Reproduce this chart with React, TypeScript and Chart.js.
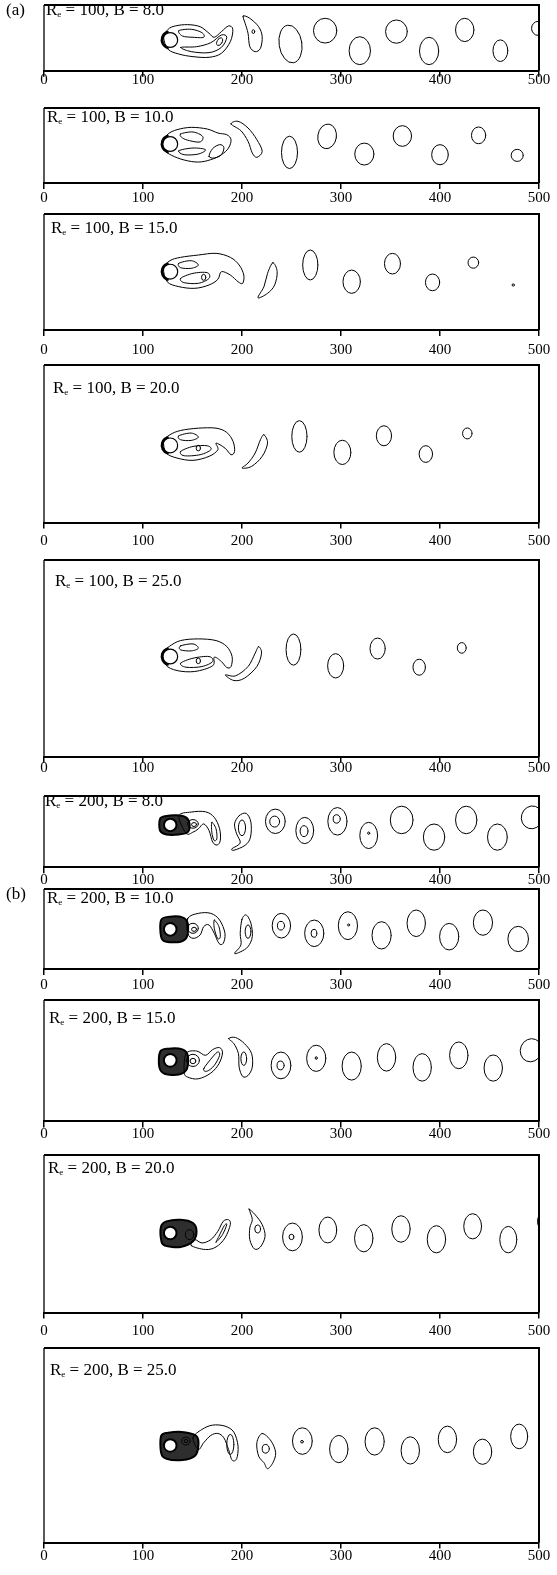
import React, { useEffect, useRef } from 'react';
import { Chart, registerables } from 'chart.js';

Chart.register(...registerables);

type Pt = [number, number];
// [centre x, centre y, half-width, half-height, tilt (rad)]
type Eddy = [number, number, number, number, number];

// ---- axis and run parameters ----
const xTickValues = [0, 100, 200, 300, 400, 500];
const reynolds = [100, 100, 100, 100, 100, 200, 200, 200, 200, 200];
const blockage = [8.0, 10.0, 15.0, 20.0, 25.0, 8.0, 10.0, 15.0, 20.0, 25.0];
const channelLow = [-33, -41.9, -62.7, -83.2, -107.9, -46.2, -42.7, -65.2, -86, -104.7];
const channelHigh = [37.6, 38.7, 62, 86.7, 104, 31.5, 43.4, 64.5, 84.2, 105];
const partLabels = ['(a)', '', '', '', '', '', '(b)', '', '', ''];
const cylinderX = 127.5;
const cylinderRadius = 8;

// ---- Re = 100 ----
const vortices1: Eddy[] = [
  [249, -4.3, 11.5, 20.4, -0.15], [284, 10, 11.8, 13.3, 0], [319, -11.5, 10.8, 15, 0],
  [356, 9, 11, 12.5, 0], [389, -11.8, 9.7, 14.7, 0], [425, 10.8, 9.3, 12.5, 0],
  [461, -11.5, 7.5, 11.6, 0], [499, 12.5, 6.5, 7.5, 0], [211.5, 9, 1.4, 2, 0],
  [177.4, -1.8, 2.5, 4.5, 0.5],
];
const contours1: Pt[][] = [
  [[120.8, 2.9], [125.4, 11.5], [132.6, 15.1], [145.2, 16.5], [157.7, 14.3], [166.7, 7.2], [172, 2.9], [179.2, 9], [186.4, 15.1], [190.7, 11.5], [188.2, -1.8], [179.2, -14.3], [166.7, -18.6], [150.5, -17.9], [136.2, -15.1], [125.4, -10]],
  [[136.2, 10], [148.7, 11.5], [159.5, 7.9], [161.3, 2.9], [150.5, 2.9], [139.8, 4.3]],
  [[138, -7.9], [154.1, -7.2], [168.5, -2.9], [179.2, 5.4], [184.6, 2.9], [179.2, -7.9], [166.7, -13.6], [148.7, -12.5]],
  [[201.1, 25.8], [207.9, 23.3], [216.8, 14.3], [220.4, 3.6], [218.6, -9], [213.3, -12.5], [207.9, -7.2], [206.1, 7.2], [203.2, 17.9]],
];

const vortices2: Eddy[] = [
  [248, -9, 8.1, 17.4, 0], [286, 8.2, 9.4, 13.3, 0.15], [323.6, -10.8, 9.7, 11.8, 0],
  [362, 8.6, 9.3, 11.1, 0], [400, -11.5, 8.4, 10.8, 0], [439, 9.3, 7.2, 9, 0],
  [478, -12.2, 6.1, 6.5, 0],
];
const contours2: Pt[][] = [
  [[120.1, 2.9], [125.4, 10.8], [134.4, 15.4], [148.7, 17.9], [164.9, 16.1], [175.6, 11.8], [184.6, 10], [188.9, 4.7], [186.4, -4.3], [179.2, -11.5], [168.5, -16.8], [155.9, -19.4], [141.6, -17.2], [129, -12.2], [121.1, -6.1]],
  [[138, 10.8], [150.5, 12.9], [160.2, 8.2], [157.7, 2.2], [147, 3.6], [139.8, 6.5]],
  [[166.7, -13.3], [170.3, -5], [177.4, -0.7], [181.7, -3.6], [179.2, -11.5], [172, -15.1]],
  [[136.2, -7.2], [150.5, -4.3], [163.1, -6.1], [155.9, -10.8], [141.6, -11.5]],
  [[188.9, 21.5], [196, 24.4], [206.1, 17.2], [215, 4.7], [220.4, -7.9], [215, -14.3], [210.4, -9.7], [206.1, 2.9], [198.9, 14.3]],
];

const vortices3: Eddy[] = [
  [269, 7.2, 7.7, 16.1, 0], [310.8, -10.8, 8.8, 12.5, 0], [352, 8.6, 8.1, 11.1, 0],
  [392.5, -11.5, 7.2, 9, 0], [433.7, 9.7, 5.4, 6, 0], [474, -14.3, 1.2, 1.2, 0],
  [161.3, -6.1, 2.2, 3.2, 0],
];
const contours3: Pt[][] = [
  [[120.8, 3.6], [127.2, 11.8], [138, 15.4], [155.9, 17.9], [173.8, 19.7], [188.2, 15.4], [197.1, 7.2], [201.8, -3.6], [200.7, -12.5], [196, -10.8], [188.2, -3.6], [179.2, 0], [175.6, -8.2], [166.7, -14.3], [152.3, -17.9], [136.2, -16.1], [124.4, -10.8]],
  [[136.2, 9], [148.7, 11.8], [155.9, 7.2], [148.7, 3.6], [138, 4.3]],
  [[138, -7.2], [150.5, -1.8], [164.9, -1.1], [166.7, -7.2], [155.9, -12.5], [141.6, -11.8]],
  [[231.2, 9.7], [235.5, 0], [233, -14.3], [225.8, -23.3], [216.1, -28], [222.2, -16.1], [225.8, -1.8]],
];

const vortices4: Eddy[] = [
  [258, 9.7, 7.7, 17, 0], [301.4, -7.5, 8.6, 13.1, 0], [343.4, 10.4, 7.7, 10.8, 0],
  [385.7, -9.3, 6.8, 9, 0], [427.6, 12.9, 4.8, 5.9, 0], [155.9, -2.9, 2.2, 3, 0],
];
const contours4: Pt[][] = [
  [[120.8, 4.3], [127.2, 11.5], [138, 16.1], [155.9, 18.6], [173.8, 18.6], [184.6, 14], [191, 4.3], [192.5, -6.5], [188.9, -10], [182.8, -2.9], [173.8, 2.5], [175.6, -4.7], [166.7, -11.8], [150.5, -16.1], [134.4, -13.6], [123.7, -8.2]],
  [[136.2, 10.4], [148.7, 13.3], [155.9, 9], [148.7, 5.4], [138, 6.1]],
  [[138, -6.5], [150.5, -1.1], [164.9, -0.4], [168.5, -4.7], [157.7, -10], [141.6, -11.1]],
  [[222.2, 11.5], [225.8, 2.5], [220.4, -11.8], [209.7, -22.6], [200, -24.4], [206.1, -19], [213.3, -8.2], [218.6, 6.1]],
];

const vortices5: Eddy[] = [
  [252, 7.5, 7.5, 16.8, 0], [294.6, -10, 8.1, 13.1, 0], [337, 8.6, 7.7, 11.3, 0],
  [379, -11.5, 6.3, 8.6, 0], [422, 9.3, 4.5, 5.7, 0], [155.9, -4.7, 2.2, 3, 0],
];
const contours5: Pt[][] = [
  [[120.1, 3.6], [126.5, 10.8], [138, 17.2], [155.9, 19], [173.8, 17.2], [184.6, 10.8], [190, 0], [188.9, -10.8], [184.6, -11.8], [179.2, -5.4], [172, -0.7], [170.3, -10], [152.3, -16.1], [134.4, -15.1], [122.9, -9]],
  [[138, 11.5], [150.5, 13.6], [155.9, 9], [148.7, 6.1], [138, 7.2]],
  [[138, -7.2], [150.5, -1.8], [166.7, 0], [170.3, -5.4], [159.5, -10.8], [143.4, -11.5]],
  [[216.8, 10.8], [219.7, 3.6], [215, -10.8], [202.5, -23.3], [191.8, -25.8], [183.2, -19.7], [193.5, -20.8], [206.1, -10.8], [213.3, 3.6]],
];

// ---- Re = 200 ----
const vortices6: Eddy[] = [
  [233.7, 3.9, 10, 13.3, 0], [233, 3.6, 5, 6, 0], [263.4, -6.1, 9, 14.3, 0], [262.7, -6.8, 4, 6, 0],
  [296.4, 3.9, 9.7, 15, 0], [295.7, 6.5, 3.6, 4.6, 0], [328, -11.5, 9, 14.3, 0], [328, -9, 1.1, 1.3, 0],
  [361.3, 5.4, 11.5, 15, 0], [394, -13.3, 10.8, 14.3, 0], [426.5, 5.4, 10.8, 15, 0],
  [458, -13.3, 10, 14.3, 0], [493, 8.2, 10.8, 12.5, 0.3], [200, -3.2, 3.6, 8.6, 0],
  [150.5, 1.1, 5.4, 4.7, 0], [151.6, 0.4, 2.5, 2.2, 0],
];
const blob6: Pt[] = [[117.2, 6.5], [123.7, 9.7], [134.4, 10.4], [143.4, 8.2], [147, 1.1], [145.2, -7.9], [136.2, -10.4], [123.7, -10.4], [117.2, -6.1]];
const contours6: Pt[][] = [
  [[136.2, 10], [148.7, 14], [163.1, 14.3], [172, 8.2], [177.4, -4.3], [178.1, -16.8], [174.9, -21.9], [170.3, -18.6], [166.7, -6.1], [161.3, 1.1], [155.9, -4.3], [150.5, -7.9], [143.4, -9]],
  [[169.5, 2.9], [173.8, -4.3], [174.6, -15.1], [171.7, -16.8], [169.5, -7.9]],
  [[197.1, 10], [204.3, 12.5], [209, 2.9], [208.6, -13.3], [203.2, -22.2], [191.8, -27.6], [190, -25.8], [198.2, -19.7], [194.6, -9.7], [192.5, 1.1]],
];

const vortices7: Eddy[] = [
  [239.8, 3.9, 9.3, 13.3, 0], [239.4, 3.9, 3.6, 4.7, 0], [273, -4.3, 9.7, 14.3, 0], [272.7, -4.3, 2.9, 4.3, 0],
  [307, 3.9, 9.7, 15, 0], [307.7, 4.7, 1.1, 1.1, 0], [341, -6.5, 9.7, 14.7, 0], [376, 6.5, 9.3, 14.3, 0],
  [409.3, -7.9, 9.7, 14.3, 0], [443.4, 7.2, 9.7, 13.6, 0], [479, -10.4, 10.4, 13.6, 0],
  [206.1, -2.5, 2.9, 7.2, 0], [150.5, 1.1, 5.4, 5.4, 0], [151.6, 0, 2.5, 2.2, 0],
];
const blob7: Pt[] = [[118.3, 10], [127.2, 13.6], [139.8, 12.9], [145.2, 6.5], [144.4, -7.9], [138, -13.3], [123.7, -13.3], [118.3, -7.9]];
const contours7: Pt[][] = [
  [[145.2, 11.8], [155.9, 17.2], [168.5, 17.2], [177.4, 10], [182.8, -4.3], [181, -15.1], [176.7, -15.1], [172, -4.3], [166.7, 4.7], [161.3, 2.9], [157.7, -6.1], [150.5, -9.7], [145.2, -4.3]],
  [[172, 10], [176.7, 2.9], [178.1, -7.9], [175.3, -9.7], [172, 1.1]],
  [[200, 10.8], [204.3, 15.4], [209, 6.5], [210.4, -7.9], [206.1, -18.6], [198.9, -24], [192.5, -25.8], [198.9, -16.8], [198.2, -4.3]],
];

const vortices8: Eddy[] = [
  [239.4, -5.4, 10, 14.3, 0], [239, -5.4, 3.6, 4.7, 0], [275, 2.2, 9.7, 14, 0], [275, 2.5, 1.1, 1.4, 0],
  [310.8, -6.1, 9.7, 15, 0], [346, 3.2, 9.3, 14.7, 0], [382, -7.5, 9.3, 14.7, 0],
  [419, 5.4, 9.3, 14.3, 0], [453.8, -8.2, 9.3, 14, 0], [492, 10.8, 10.8, 12.5, 0.4],
  [201.8, 1.8, 2.9, 7.2, 0], [150.5, 0, 6.5, 6.5, 0], [150.5, -0.7, 2.9, 2.9, 0],
];
const blob8: Pt[] = [[117.2, 9], [125.4, 12.5], [139.8, 11.8], [145.2, 5.4], [144.4, -9], [136.2, -15.1], [121.9, -14.3], [116.5, -7.2]];
const contours8: Pt[][] = [
  [[143.4, 7.2], [154.1, 10], [163.1, 5.4], [170.3, 11.5], [177.4, 13.6], [180.3, 7.9], [176.7, -3.6], [168.5, -13.6], [155.9, -19.7], [145.2, -17.9], [141.6, -12.5]],
  [[161.3, -9], [170.3, 3.6], [175.6, 9], [177.4, 5.4], [172, -5.4], [164.9, -11.5]],
  [[186.4, 23.3], [193.5, 24.4], [202.5, 17.9], [209.7, 7.2], [210.4, -7.2], [206.1, -16.1], [200.7, -17.2], [197.1, -7.2], [196.4, 7.2], [191.8, 17.9]],
];

const vortices9: Eddy[] = [
  [251, -4.3, 10, 15, 0], [250, -4.3, 2.5, 2.9, 0], [286.7, 3.2, 9, 14, 0], [323, -5.7, 9.3, 14.7, 0],
  [360.6, 4.3, 9.3, 14.3, 0], [396.4, -6.8, 9.3, 14.7, 0], [433, 7.2, 9, 13.6, 0],
  [469, -7.2, 8.6, 14.3, 0], [502, 12.5, 3.5, 7, 0], [215.8, 4.3, 2.9, 4.3, 0],
  [147, -1.8, 4.3, 5.4, 0],
];
const blob9: Pt[] = [[118.3, 7.2], [123.7, 12.5], [138, 14.3], [150.5, 10.8], [154.1, 1.8], [150.5, -9], [138, -15.1], [121.9, -13.6], [118.3, -7.2]];
const contours9: Pt[][] = [
  [[148.7, -13.6], [163.1, -17.9], [173.8, -15.1], [182.8, -5.4], [188.2, 9], [186.4, 14.3], [181, 12.5], [175.6, 1.8], [168.5, -7.2], [159.5, -10.8], [152.3, -7.2]],
  [[173.8, -10], [180.3, -1.8], [184.6, 9], [182.1, 7.9], [176.7, -3.6]],
  [[207.2, 25.8], [213.3, 19.7], [220.4, 9], [223.3, -3.6], [218.6, -15.1], [212.5, -17.2], [207.9, -7.2], [207.9, 5.4], [210.4, 14.3], [207.9, 23.3]],
];

const vortices10: Eddy[] = [
  [261, 4.7, 10, 14.3, 0], [260.6, 4, 1.4, 1.4, 0], [297.8, -3.9, 9.3, 14.7, 0], [334, 4.3, 9.7, 14.7, 0],
  [370, -5.4, 9.3, 14.7, 0], [407.5, 6.5, 9.3, 14.3, 0], [443, -6.8, 9.3, 13.6, 0],
  [480, 9.7, 8.6, 13.3, 0], [224, -3.6, 3.6, 4.7, 0], [188.2, 1.1, 3.6, 10.8, 0],
  [143.4, 4.7, 4.3, 4.3, 0], [143.4, 4.7, 1.8, 1.8, 0],
];
const blob10: Pt[] = [[118.3, 10], [125.4, 13.6], [141.6, 14.3], [154.1, 10], [155.9, -0.7], [152.3, -11.5], [139.8, -15.8], [123.7, -14.3], [118.3, -7.9]];
const contours10: Pt[][] = [
  [[150.5, 8.2], [159.5, 17.2], [170.3, 21.9], [182.8, 20.8], [191.8, 14.3], [196, -0.7], [194.6, -14.3], [190, -15.8], [186.4, -4.3], [181.7, 8.2], [175.6, 12.9], [168.5, 10.8], [161.3, 2.9], [155.9, -4.3]],
  [[220.4, 12.9], [229.4, 4.7], [234, -7.9], [231.2, -18.6], [225.8, -25.1], [222.2, -18.6], [216.8, -11.5], [215, 2.9]],
];

const vortexSets = [vortices1, vortices2, vortices3, vortices4, vortices5, vortices6, vortices7, vortices8, vortices9, vortices10];
const contourSets = [contours1, contours2, contours3, contours4, contours5, contours6, contours7, contours8, contours9, contours10];
const blobSets: (Pt[] | null)[] = [null, null, null, null, null, blob6, blob7, blob8, blob9, blob10];

// ---- page layout (pixels) ----
const frameTop = [5, 108, 214, 365, 560, 796, 889, 1000, 1155, 1348];
const frameBottom = [71, 183, 330, 523, 757, 867, 969, 1121, 1313, 1543];
const labelGap = [9.3, 15, 20, 18.4, 11.3, 12.7, 16, 12.6, 18.4, 13.4];
const titleLeft = [46, 47, 51, 53, 55, 45, 47, 49, 48, 50];
const titleDrop = [10, 14, 19, 28, 25.5, 9.5, 14, 23, 18, 27];
const PAGE_W = 557;
const PAGE_H = 1575;
const PAD_LEFT = 44;
const PAD_RIGHT = 18;
const PAD_TOP = 5;
const TICK_LEN = 6;
const TICK_FONT = 15;
const TITLE_FONT = 17;
const SERIF = '"Liberation Serif", "Times New Roman", serif';

// builds a closed Catmull-Rom path through pixel points
function loopPath(ctx: CanvasRenderingContext2D, pts: Pt[]) {
  const n = pts.length;
  ctx.beginPath();
  ctx.moveTo(pts[0][0], pts[0][1]);
  for (let i = 0; i < n; i++) {
    const p0 = pts[(i - 1 + n) % n];
    const p1 = pts[i];
    const p2 = pts[(i + 1) % n];
    const p3 = pts[(i + 2) % n];
    const t = 1 / 6;
    ctx.bezierCurveTo(
      p1[0] + (p2[0] - p0[0]) * t, p1[1] + (p2[1] - p0[1]) * t,
      p2[0] - (p3[0] - p1[0]) * t, p2[1] - (p3[1] - p1[1]) * t,
      p2[0], p2[1]
    );
  }
  ctx.closePath();
}

function Panel({ index }: { index: number }) {
  const ref = useRef<HTMLCanvasElement>(null);
  const gap = labelGap[index];
  const axisHeight = gap + 11;
  const top = frameTop[index] - PAD_TOP;
  const height = Math.round(frameBottom[index] + axisHeight - top);

  useEffect(() => {
    const canvas = ref.current;
    if (!canvas) return;
    const re = reynolds[index];
    const eddies = vortexSets[index];
    const contours = contourSets[index];
    const blob = blobSets[index];

    const wakePlugin = {
      id: 'wakeContours',
      afterDatasetsDraw(chart: any) {
        const { ctx, chartArea: a } = chart;
        const xs = chart.scales.x;
        const ys = chart.scales.y;
        const px = (v: number) => xs.getPixelForValue(v);
        const py = (v: number) => ys.getPixelForValue(v);
        const kx = (px(500) - px(0)) / 500;
        const ky = Math.abs(py(1) - py(0));
        const toPx = (pts: Pt[]): Pt[] => pts.map(([x, y]) => [px(x), py(y)] as Pt);

        ctx.save();
        ctx.beginPath();
        ctx.rect(a.left, a.top, a.right - a.left, a.bottom - a.top);
        ctx.clip();
        ctx.strokeStyle = '#000';
        ctx.lineJoin = 'round';
        ctx.lineCap = 'round';

        ctx.lineWidth = 1;
        contours.forEach((c) => {
          loopPath(ctx, toPx(c));
          ctx.stroke();
        });
        eddies.forEach(([x, y, rx, ry, rot]) => {
          ctx.beginPath();
          ctx.ellipse(px(x), py(y), rx * kx, ry * ky, rot, 0, Math.PI * 2);
          ctx.stroke();
        });

        const cx = px(cylinderX);
        const cy = py(0);
        const r = cylinderRadius * ky;
        if (blob) {
          // dense near-body contours merge into a dark patch
          loopPath(ctx, toPx(blob));
          ctx.fillStyle = 'rgba(0,0,0,0.82)';
          ctx.fill();
          ctx.lineWidth = 2;
          ctx.stroke();
          ctx.beginPath();
          ctx.arc(cx, cy, r * 0.85, 0, Math.PI * 2);
          ctx.fillStyle = '#fff';
          ctx.fill();
          ctx.lineWidth = 2;
          ctx.stroke();
        } else {
          ctx.lineWidth = 1.2;
          ctx.beginPath();
          ctx.arc(cx, cy, r, 0, Math.PI * 2);
          ctx.stroke();
          ctx.lineWidth = 2.4;
          ctx.beginPath();
          ctx.arc(cx, cy, r + 1, Math.PI * 0.6, Math.PI * 1.4);
          ctx.stroke();
        }
        ctx.restore();

        // channel walls
        ctx.save();
        ctx.strokeStyle = '#000';
        ctx.lineWidth = 2;
        ctx.beginPath();
        ctx.moveTo(a.left, a.top);
        ctx.lineTo(a.right, a.top);
        ctx.lineTo(a.right, a.bottom);
        ctx.stroke();
        ctx.lineWidth = 1.3;
        ctx.beginPath();
        ctx.moveTo(a.left, a.top);
        ctx.lineTo(a.left, a.bottom);
        ctx.stroke();

        // panel title  R_e = ..., B = ...
        ctx.fillStyle = '#000';
        ctx.textBaseline = 'alphabetic';
        ctx.textAlign = 'left';
        const tx = titleLeft[index];
        const ty = a.top + titleDrop[index];
        ctx.font = `${TITLE_FONT}px ${SERIF}`;
        ctx.fillText('R', tx, ty);
        const wR = ctx.measureText('R').width;
        ctx.font = `9px ${SERIF}`;
        ctx.fillText('e', tx + wR, ty + 2);
        const wE = ctx.measureText('e').width;
        ctx.font = `${TITLE_FONT}px ${SERIF}`;
        ctx.fillText(` = ${re}, B = ${blockage[index].toFixed(1)}`, tx + wR + wE, ty);

        if (partLabels[index]) {
          ctx.fillText(partLabels[index], 6, a.top + 10);
        }
        ctx.restore();
      },
    };

    const chart = new Chart(canvas, {
      type: 'scatter',
      data: {
        datasets: [
          {
            data: eddies.map(([x, y]) => ({ x, y })),
            pointRadius: 0,
            showLine: false,
          },
        ],
      },
      options: {
        animation: false,
        responsive: false,
        maintainAspectRatio: false,
        events: [],
        layout: { padding: { left: PAD_LEFT, right: PAD_RIGHT, top: PAD_TOP, bottom: 0 } },
        plugins: { legend: { display: false }, tooltip: { enabled: false } },
        scales: {
          x: {
            type: 'linear',
            position: 'bottom',
            min: xTickValues[0],
            max: xTickValues[xTickValues.length - 1],
            afterFit: (scale: any) => {
              scale.height = axisHeight;
            },
            afterBuildTicks: (scale: any) => {
              scale.ticks = xTickValues.map((v) => ({ value: v }));
            },
            ticks: {
              padding: gap - TICK_LEN - TICK_FONT * 0.6,
              color: '#000',
              font: { family: SERIF, size: TICK_FONT },
              maxRotation: 0,
              autoSkip: false,
            },
            grid: {
              drawOnChartArea: false,
              drawTicks: true,
              tickLength: TICK_LEN,
              color: '#000',
              lineWidth: 1.5,
            },
            border: { display: true, color: '#000', width: 2 },
          },
          y: {
            type: 'linear',
            display: false,
            min: channelLow[index],
            max: channelHigh[index],
          },
        },
      },
      plugins: [wakePlugin],
    } as any);

    return () => chart.destroy();
  }, [index]);

  return (
    <canvas
      ref={ref}
      width={PAGE_W}
      height={height}
      style={{ position: 'absolute', left: 0, top, width: PAGE_W, height }}
    />
  );
}

export default function App() {
  return (
    <div
      style={{
        position: 'absolute',
        left: 0,
        top: 0,
        width: PAGE_W,
        height: PAGE_H,
        overflow: 'hidden',
        background: '#fff',
      }}
    >
      {reynolds.map((_, i) => (
        <Panel key={i} index={i} />
      ))}
    </div>
  );
}
